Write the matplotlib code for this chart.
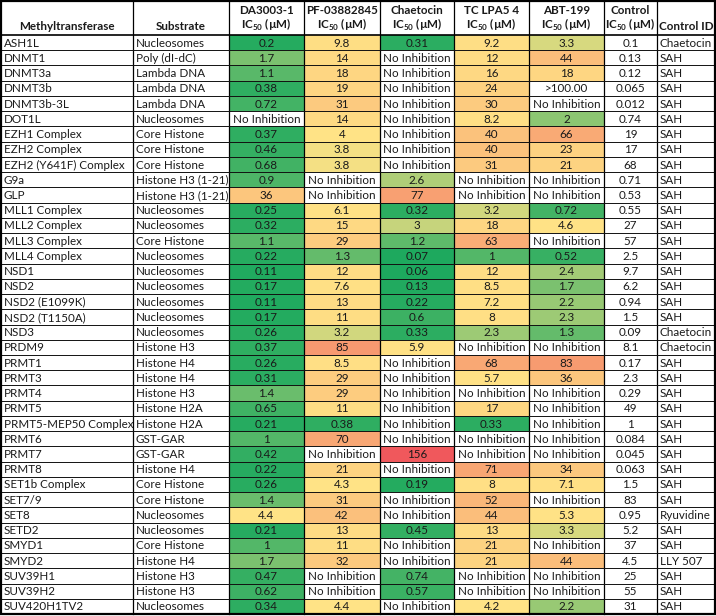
import matplotlib
matplotlib.use("Agg")
import matplotlib.pyplot as plt
from matplotlib.patches import Rectangle
from matplotlib.colors import to_rgb
import numpy as np

plt.rcParams['font.family'] = ['Lato', 'DejaVu Sans']
plt.rcParams['mathtext.fontset'] = 'custom'
plt.rcParams['mathtext.rm'] = 'Lato'
plt.rcParams['mathtext.bf'] = 'Lato:bold'

NI = "No Inhibition"

enzymes = ["ASH1L", "DNMT1", "DNMT3a", "DNMT3b", "DNMT3b-3L", "DOT1L", "EZH1 Complex",
           "EZH2 Complex", "EZH2 (Y641F) Complex", "G9a", "GLP", "MLL1 Complex",
           "MLL2 Complex", "MLL3 Complex", "MLL4 Complex", "NSD1", "NSD2", "NSD2 (E1099K)",
           "NSD2 (T1150A)", "NSD3", "PRDM9", "PRMT1", "PRMT3", "PRMT4", "PRMT5",
           "PRMT5-MEP50 Complex", "PRMT6", "PRMT7", "PRMT8", "SET1b Complex", "SET7/9",
           "SET8", "SETD2", "SMYD1", "SMYD2", "SUV39H1", "SUV39H2", "SUV420H1TV2"]

substrates = ["Nucleosomes", "Poly (dI-dC)", "Lambda DNA", "Lambda DNA", "Lambda DNA",
              "Nucleosomes", "Core Histone", "Core Histone", "Core Histone",
              "Histone H3 (1-21)", "Histone H3 (1-21)", "Nucleosomes", "Nucleosomes",
              "Core Histone", "Nucleosomes", "Nucleosomes", "Nucleosomes", "Nucleosomes",
              "Nucleosomes", "Nucleosomes", "Histone H3", "Histone H4", "Histone H4",
              "Histone H3", "Histone H2A", "Histone H2A", "GST-GAR", "GST-GAR", "Histone H4",
              "Core Histone", "Core Histone", "Nucleosomes", "Nucleosomes", "Core Histone",
              "Histone H4", "Histone H3", "Histone H3", "Nucleosomes"]

da3003 = ["0.2", "1.7", "1.1", "0.38", "0.72", NI, "0.37", "0.46", "0.68", "0.9", "36",
          "0.25", "0.32", "1.1", "0.22", "0.11", "0.17", "0.11", "0.17", "0.26", "0.37",
          "0.26", "0.31", "1.4", "0.65", "0.21", "1", "0.42", "0.22", "0.26", "1.4", "4.4",
          "0.21", "1", "1.7", "0.47", "0.62", "0.34"]

pf038 = ["9.8", "14", "18", "19", "31", "14", "4", "3.8", "3.8", NI, NI, "6.1", "15", "29",
         "1.3", "12", "7.6", "13", "11", "3.2", "85", "8.5", "29", "29", "11", "0.38", "70",
         NI, "21", "4.3", "31", "42", "13", "11", "32", NI, NI, "4.4"]

chaetocin = ["0.31", NI, NI, NI, NI, NI, NI, NI, NI, "2.6", "77", "0.32", "3", "1.2", "0.07",
             "0.06", "0.13", "0.22", "0.6", "0.33", "5.9", NI, NI, NI, NI, NI, NI, "156", NI,
             "0.19", NI, NI, "0.45", NI, NI, "0.74", "0.57", NI]

tclpa5 = ["9.2", "12", "16", "24", "30", "8.2", "40", "40", "31", NI, NI, "3.2", "18", "63",
          "1", "12", "8.5", "7.2", "8", "2.3", NI, "68", "5.7", NI, "17", "0.33", NI, NI, "71",
          "8", "52", "44", "13", "21", "21", NI, NI, "4.2"]

abt199 = ["3.3", "44", "18", ">100.00", NI, "2", "66", "23", "21", NI, NI, "0.72", "4.6", NI,
          "0.52", "2.4", "1.7", "2.2", "2.3", "1.3", NI, "83", "36", NI, NI, NI, NI, NI, "34",
          "7.1", NI, "5.3", "3.3", NI, "44", NI, NI, "2.2"]

control = ["0.1", "0.13", "0.12", "0.065", "0.012", "0.74", "19", "17", "68", "0.71", "0.53",
           "0.55", "27", "57", "2.5", "9.7", "6.2", "0.94", "1.5", "0.09", "8.1", "0.17", "2.3",
           "0.29", "49", "1", "0.084", "0.045", "0.063", "1.5", "83", "0.95", "5.2", "37", "4.5",
           "25", "55", "31"]

control_id = ["Chaetocin", "SAH", "SAH", "SAH", "SAH", "SAH", "SAH", "SAH", "SAH", "SAH", "SAH",
              "SAH", "SAH", "SAH", "SAH", "SAH", "SAH", "SAH", "SAH", "Chaetocin", "Chaetocin",
              "SAH", "SAH", "SAH", "SAH", "SAH", "SAH", "SAH", "SAH", "SAH", "SAH", "Ryuvidine",
              "SAH", "SAH", "LLY 507", "SAH", "SAH", "SAH"]

compounds = ["DA3003-1", "PF-03882845", "Chaetocin", "TC LPA5 4", "ABT-199"]
compound_cols = [da3003, pf038, chaetocin, tclpa5, abt199]


def as_num(s):
    try:
        return float(s)
    except ValueError:
        return None


# 3-colour scale (green - yellow - red), like a spreadsheet conditional format
GREEN = np.array(to_rgb("#1da95e"))
YELLOW = np.array(to_rgb("#ffe386"))
RED = np.array(to_rgb("#f0585c"))
nums = [as_num(v) for col in compound_cols for v in col if as_num(v) is not None]
vmin, vmax = min(nums), max(nums)
vmid = 4.0


def cell_color(v):
    if v < vmid:
        t = (v - vmin) / (vmid - vmin)
        return GREEN + (YELLOW - GREEN) * t
    t = (v - vmid) / (vmax - vmid)
    return YELLOW + (RED - YELLOW) * t


W, H = 716, 616
fig = plt.figure(figsize=(W / 100, H / 100), dpi=100)
ax = fig.add_axes([0, 0, 1, 1])
ax.set_xlim(0, W)
ax.set_ylim(H, 0)
ax.axis("off")

xs = [1, 133, 229, 304, 380, 454, 529, 604, 657, 715]
top, head_bot, bottom = 1, 35, 614
nrows = len(enzymes)
rh = (bottom - head_bot) / nrows
fs = 8.4
txt_col = "#1a1a1a"

# header
hdr_kw = dict(fontsize=fs, fontweight="bold", color=txt_col, ha="center", va="center")
ic50 = r"IC$_{\mathbf{50}}$ (µM)"
ax.text((xs[0] + xs[1]) / 2, 27, "Methyltransferase", **hdr_kw)
ax.text((xs[1] + xs[2]) / 2, 27, "Substrate", **hdr_kw)
for i, name in enumerate(compounds):
    cx = (xs[2 + i] + xs[3 + i]) / 2
    ax.text(cx, 10, name, **hdr_kw)
    ax.text(cx, 25, ic50, **hdr_kw)
ax.text((xs[7] + xs[8]) / 2, 10, "Control", **hdr_kw)
ax.text((xs[7] + xs[8]) / 2, 25, ic50, **hdr_kw)
ax.text((xs[8] + xs[9]) / 2, 27, "Control ID", **hdr_kw)

# body
for r in range(nrows):
    y0 = head_bot + r * rh
    cy = y0 + rh / 2 + 0.5
    ax.text(xs[0] + 3, cy, enzymes[r], fontsize=fs, color=txt_col, ha="left", va="center")
    ax.text(xs[1] + 3, cy, substrates[r], fontsize=fs, color=txt_col, ha="left", va="center")
    for c, col in enumerate(compound_cols):
        v = as_num(col[r])
        if v is not None:
            ax.add_patch(Rectangle((xs[2 + c], y0), xs[3 + c] - xs[2 + c], rh,
                                   facecolor=cell_color(v), edgecolor="none", zorder=0))
        ax.text((xs[2 + c] + xs[3 + c]) / 2, cy, col[r], fontsize=fs, color=txt_col,
                ha="center", va="center")
    ax.text((xs[7] + xs[8]) / 2, cy, control[r], fontsize=fs, color=txt_col,
            ha="center", va="center")
    ax.text(xs[8] + 3, cy, control_id[r], fontsize=fs, color=txt_col, ha="left", va="center")

# grid lines
for x in xs[1:-1]:
    ax.plot([x, x], [top, bottom], color="black", lw=0.9, zorder=2)
for r in range(1, nrows):
    y = head_bot + r * rh
    ax.plot([xs[0], xs[-1]], [y, y], color="#111111", lw=0.7, zorder=2)
ax.plot([xs[0], xs[-1]], [head_bot, head_bot], color="black", lw=1.2, zorder=2)
ax.add_patch(Rectangle((xs[0], top), xs[-1] - xs[0], bottom - top, facecolor="none",
                       edgecolor="black", lw=1.6, zorder=3))

fig.savefig("out.png", dpi=100)
